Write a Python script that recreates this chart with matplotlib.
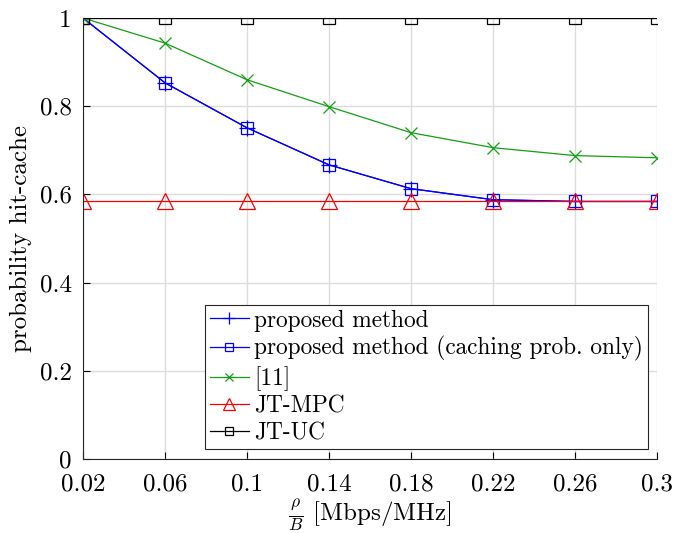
import matplotlib
matplotlib.use("Agg")
import matplotlib.pyplot as plt

plt.rcParams['font.family'] = 'serif'
plt.rcParams['font.serif'] = ['cmr10']
plt.rcParams['mathtext.fontset'] = 'cm'
plt.rcParams['axes.formatter.use_mathtext'] = True

x = [0.02, 0.06, 0.1, 0.14, 0.18, 0.22, 0.26, 0.3]
proposed = [1.0, 0.853, 0.751, 0.667, 0.613, 0.588, 0.584, 0.584]
proposed_cache = [1.0, 0.853, 0.751, 0.667, 0.613, 0.588, 0.584, 0.584]
ref11 = [1.0, 0.943, 0.860, 0.799, 0.740, 0.706, 0.688, 0.683]
jt_mpc = [0.584] * 8
jt_uc = [1.0] * 8
xticks = [0.02, 0.06, 0.1, 0.14, 0.18, 0.22, 0.26, 0.3]
xticklabels = ['0.02', '0.06', '0.1', '0.14', '0.18', '0.22', '0.26', '0.3']
yticks = [0, 0.2, 0.4, 0.6, 0.8, 1]
yticklabels = ['0', '0.2', '0.4', '0.6', '0.8', '1']

fig = plt.figure(figsize=(6.73, 5.33), dpi=100)
ax = fig.add_axes([83/673, 1 - 459/533, (657-83)/673, (459-18)/533])

lw = 0.9
ax.plot(x, proposed, color='blue', marker='+', ms=11, mew=0.9, lw=lw, label='proposed method')
ax.plot(x, proposed_cache, color='blue', marker='s', ms=8.5, mfc='none', mew=0.9, lw=lw,
        label='proposed method (caching prob. only)')
ax.plot(x, ref11, color='#12a012', marker='x', ms=8.5, mew=0.9, lw=lw, label='[11]')
ax.plot(x, jt_mpc, color='red', marker='^', ms=11, mfc='none', mew=0.9, lw=lw, label='JT-MPC')
ax.plot(x, jt_uc, color='black', marker='s', ms=8.5, mfc='none', mew=0.9, lw=lw, label='JT-UC')

ax.set_xlim(0.02, 0.3)
ax.set_ylim(0, 1)
ax.set_xticks(xticks)
ax.set_xticklabels(xticklabels)
ax.set_yticks(yticks)
ax.set_yticklabels(yticklabels)
ax.tick_params(direction='in', length=5, width=0.8, labelsize=18, top=False, right=False)
ax.tick_params(axis='x', pad=10)
ax.tick_params(axis='y', pad=8)
ax.grid(True, color='#dcdcdc', lw=1)
ax.set_axisbelow(True)
ax.spines['top'].set_visible(False)
ax.spines['right'].set_visible(False)
for s in ('left', 'bottom'):
    ax.spines[s].set_color('#262626')
    ax.spines[s].set_linewidth(0.8)

ax.set_xlabel(r'$\frac{\rho}{B}$ [Mbps/MHz]', fontsize=18, labelpad=2)
ax.set_ylabel('probability hit-cache', fontsize=18, labelpad=6)

leg = ax.legend(loc='lower right', fontsize=16.8, frameon=True, fancybox=False,
                edgecolor='#262626', framealpha=1, handlelength=1.65, handletextpad=0.25,
                borderpad=0.2, labelspacing=0.2, borderaxespad=0.0, markerscale=0.75,
                bbox_to_anchor=(648/673, 1 - 449/533), bbox_transform=fig.transFigure)
leg.get_frame().set_linewidth(0.8)

fig.savefig('out.png', dpi=100)
